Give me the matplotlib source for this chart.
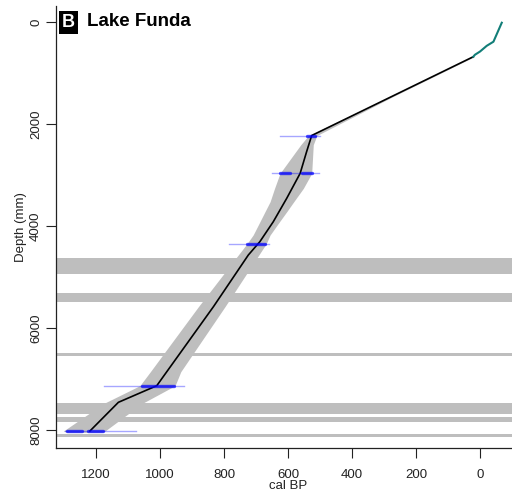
import matplotlib
matplotlib.use("Agg")
import matplotlib.pyplot as plt

plt.rcParams["font.family"] = ["Liberation Sans", "DejaVu Sans"]

# 210Pb section at the top of the core (cal BP, depth in mm)
pb_years = [-68, -42, -21, 0, 16, 21]
pb_depths = [8, 380, 461, 573, 637, 675]

# median of the age-depth model
model_depths = [675, 2220, 2540, 2961, 3451, 3910, 4302, 4563, 5576, 6949, 7125, 7451, 8014]
model_median = [21, 526, 542, 562, 604, 646, 688, 724, 833, 990, 1010, 1130, 1219]

# 95% envelope
env_depths = [675, 1450, 2220, 2400, 2961, 3255, 3518, 3714, 3975, 4171, 4340,
              5576, 6850, 7125, 7471, 8014, 8040]
env_young = [18, 270, 510, 521, 526, 552, 582, 604, 634, 656, 668,
             797, 935, 953, 1055, 1172, 1180]
env_old = [24, 279, 536, 560, 625, 642, 656, 672, 693, 709, 728,
           880, 1030, 1063, 1175, 1302, 1290]

# calibrated 14C dates: full range and high-probability parts
date_depths = [2220, 2961, 4353, 7125, 8014]
date_young = [500, 503, 658, 925, 1075]
date_old = [625, 650, 784, 1175, 1297]
date_hpd = [
    [(516, 542)],
    [(526, 557), (594, 625)],
    [(672, 729)],
    [(956, 1057)],
    [(1177, 1225), (1245, 1292)],
]

# slump / instantaneous layers (top, bottom depth)
slump_top = [4627, 5308, 6490, 7471, 7733, 8078]
slump_bottom = [4941, 5490, 6543, 7680, 7837, 8131]

GREY = "#BEBEBE"

fig = plt.figure(figsize=(5.12, 4.95), dpi=100)
ax = fig.add_axes([56 / 512, 47 / 495, 464 / 512, 442 / 495])

for top, bot in zip(slump_top, slump_bottom):
    ax.axhspan(top, bot, color=GREY, lw=0, zorder=1)

ax.fill_betweenx(env_depths, env_young, env_old, color=GREY, lw=0, zorder=2)
ax.plot(model_median, model_depths, color="black", lw=1.2, zorder=4)
ax.plot(pb_years, pb_depths, color="#127E78", lw=1.5, zorder=5)

for d, y0, y1, hpd in zip(date_depths, date_young, date_old, date_hpd):
    ax.plot([y0, y1], [d, d], color="#0000FF", alpha=0.35, lw=1, zorder=6)
    for a, b in hpd:
        ax.plot([a, b], [d, d], color="#0000FF", alpha=0.7, lw=2.4,
                solid_capstyle="round", zorder=6)

ax.set_xlim(1325, -125)
ax.set_ylim(8347, -320)

ax.set_xticks([1200, 1000, 800, 600, 400, 200, 0])
ax.set_yticks([0, 2000, 4000, 6000, 8000])
ax.tick_params(axis="both", length=7, width=0.8, color="#222222",
               labelsize=9.5, labelcolor="#222222")
ax.tick_params(axis="x", pad=8)
ax.tick_params(axis="y", pad=3)
for lab in ax.get_yticklabels():
    lab.set_rotation(90)
    lab.set_va("center")

for side in ["top", "right"]:
    ax.spines[side].set_visible(False)
for side in ["left", "bottom"]:
    ax.spines[side].set_linewidth(0.9)
    ax.spines[side].set_color("#222222")

fig.text(20.7 / 512, 1 - 227 / 495, "Depth (mm)", rotation=90,
         ha="center", va="center", fontsize=9.5, color="#222222")
fig.text(288 / 512, 1 - 480 / 495, "cal BP", ha="center", va="top",
         fontsize=9.5, color="#222222")

# panel letter and site name
fig.text(62 / 512, 1 - 22.5 / 495, "B", color="white", fontsize=13,
         fontweight="bold", ha="left", va="center",
         bbox=dict(boxstyle="square,pad=0.18", fc="black", ec="none"))
fig.text(87 / 512, 1 - 22 / 495, "Lake Funda", color="black", fontsize=13.5,
         fontweight="bold", ha="left", va="center")

fig.savefig("out.png", dpi=100)
